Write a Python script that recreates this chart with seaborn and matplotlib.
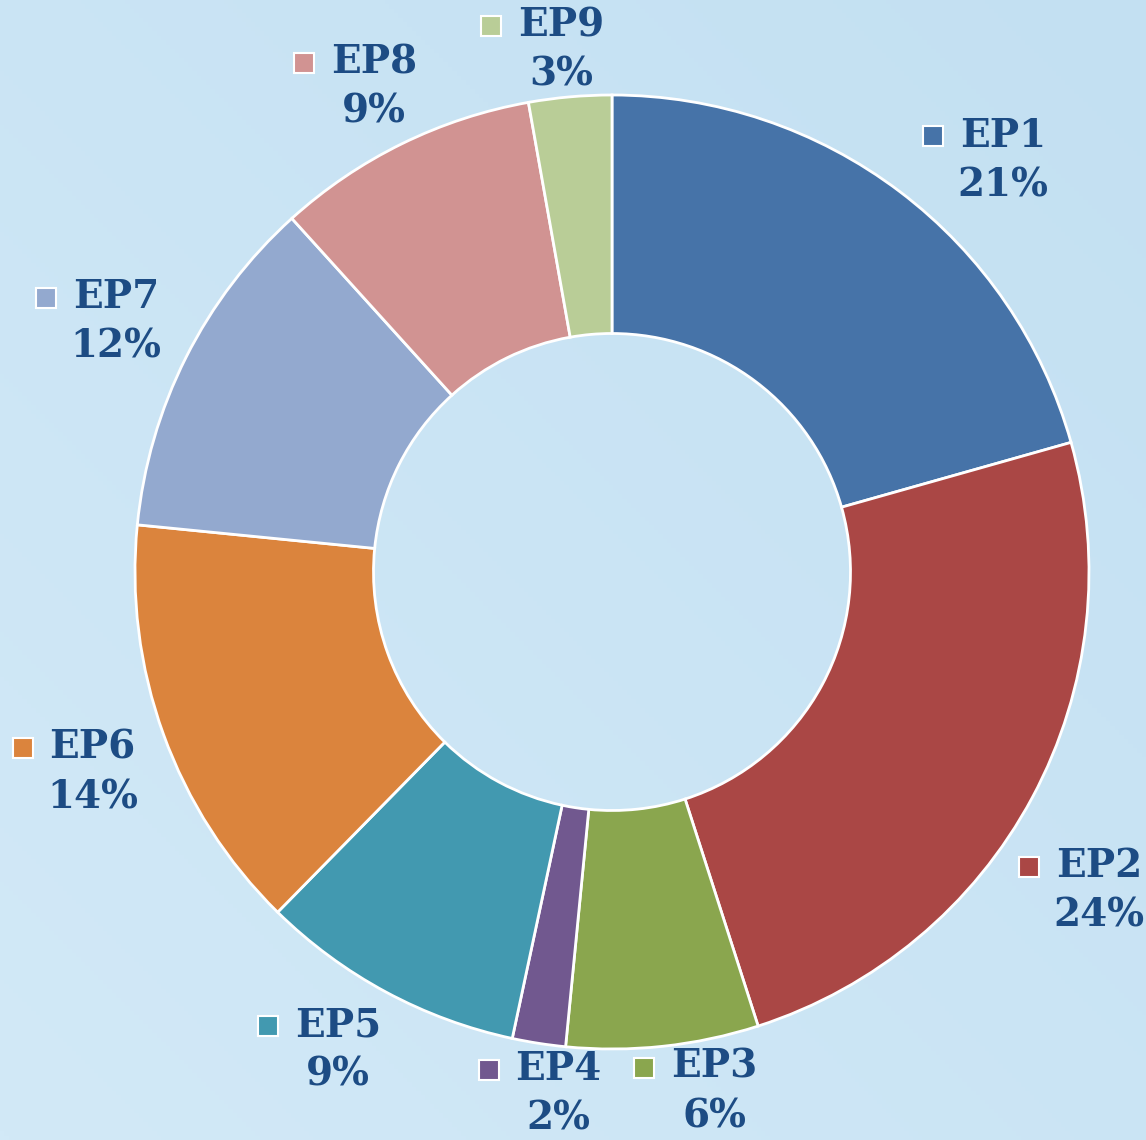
import matplotlib
matplotlib.use("Agg")
import matplotlib.pyplot as plt
import matplotlib.transforms as mtransforms
import numpy as np
import seaborn as sns

# Segment names and shares (percent), read clockwise from the top
labels = ["EP1", "EP2", "EP3", "EP4", "EP5", "EP6", "EP7", "EP8", "EP9"]
shares = [20.6, 24.4, 6.5, 1.8, 9.0, 14.2, 11.7, 8.9, 2.8]
colors = ["#4673a8", "#aa4745", "#8aa64e", "#71588f", "#4299b0",
          "#db843d", "#93a9cf", "#d19392", "#b9cd97"]

sns.set_theme(style="white")
plt.rcParams["font.family"] = ["DejaVu Serif"]

text_color = "#1d4c84"

fig = plt.figure(figsize=(11.46, 11.40), dpi=100)
ax = fig.add_axes([0, 0, 1, 1])

# data units: outer radius = 1, centre a little right of the middle
xlim = (-612 / 477, (1146 - 612) / 477)
ylim = (-568 / 477, 572 / 477)

# light blue background
grad = np.linspace(0, 1, 256)
bg = np.outer(grad, np.ones(256)) * 0.5 + np.outer(np.ones(256), grad) * 0.5
ax.imshow(bg, cmap=sns.blend_palette(["#d2e9f7", "#c3e0f2"], as_cmap=True),
          extent=(*xlim, *ylim), aspect="auto", zorder=0, origin="lower")

wedges, _ = ax.pie(
    shares,
    colors=colors,
    startangle=90,
    counterclock=False,
    radius=1.0,
    wedgeprops=dict(width=0.5, edgecolor="white", linewidth=2),
)

# label placement: (angle shift from wedge middle in degrees, radius)
label_pos = {"EP1": (-6.4, 1.19), "EP2": (-5.0, 1.22), "EP3": (5.0, 1.11),
             "EP4": (3.0, 1.10), "EP5": (-1.5, 1.155), "EP6": (1.2, 1.167),
             "EP7": (0.0, 1.165), "EP8": (0.0, 1.132), "EP9": (0.5, 1.10)}

for w, name, share, col in zip(wedges, labels, shares, colors):
    shift, r = label_pos[name]
    mid = np.deg2rad((w.theta1 + w.theta2) / 2 + shift)
    x, y = r * np.cos(mid), r * np.sin(mid)
    ax.text(x, y, f"{name}\n{share:.0f}%", ha="center", va="center",
            fontsize=28, fontweight="bold", color=text_color,
            linespacing=1.38, zorder=5)
    tr = mtransforms.offset_copy(ax.transData, fig=fig, x=-70, y=24, units="dots")
    ax.plot(x, y, marker="s", markersize=15, color=col, markeredgecolor="white",
            markeredgewidth=1.5, transform=tr, zorder=5)

ax.set_xlim(*xlim)
ax.set_ylim(*ylim)
ax.set_axis_off()

fig.savefig("out.png", dpi=100)
